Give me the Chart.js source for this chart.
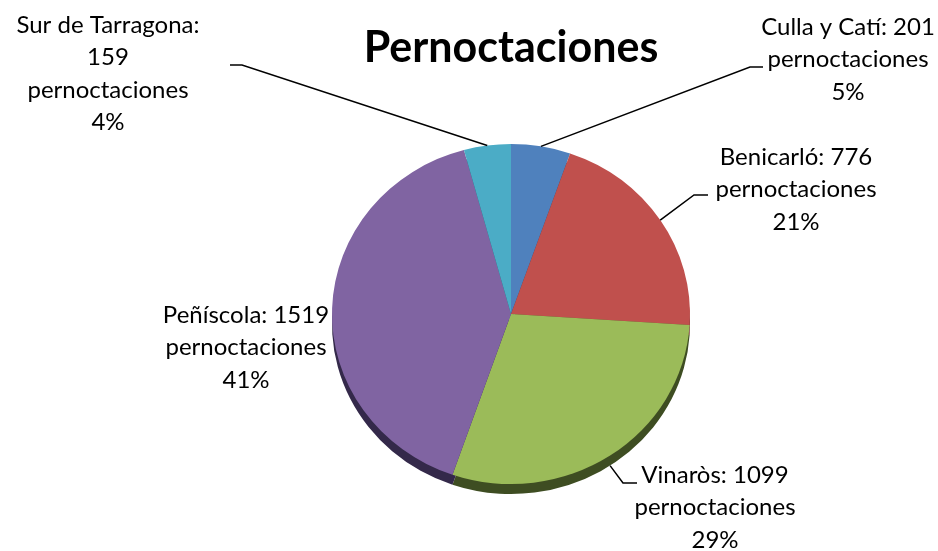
<!DOCTYPE html>
<html>
<head>
<meta charset="utf-8">
<script src="https://cdn.jsdelivr.net/npm/chart.js@4.4.0/dist/chart.umd.min.js"></script>
<style>
  html, body { margin: 0; background: #fff; }
  canvas { display: block; }
</style>
</head>
<body>
<canvas id="pernoctaciones" width="938" height="551"></canvas>
<script>
const titulo = 'Pernoctaciones';
const zonas = ['Culla y Catí', 'Benicarló', 'Vinaròs', 'Peñíscola', 'Sur de Tarragona'];
const pernoctaciones = [201, 776, 1099, 1519, 159];
const porcentajes = [5, 21, 29, 41, 4];

const colores = ['#4F81BD', '#C0504D', '#9BBB59', '#8064A2', '#4BACC6'];
const coloresLado = ['#2A4870', '#6E2C2A', '#3E4D22', '#34294A', '#22606F'];

// tarta ligeramente inclinada: achatamiento vertical y grosor del canto
const inclinacion = 0.95;
const profundidad = 10;

// dónde va el texto de cada etiqueta y el codo de su línea guía
const posEtiquetas = [
    { x: 848, y: 27, codo: [750, 67], fin: [763, 67] },
    { x: 796, y: 157, codo: [694, 195], fin: [708, 195] },
    { x: 715, y: 475, codo: [623, 483], fin: [637, 483] },
    { x: 246, y: 315 },
    { x: 108, y: 25, codo: [242, 65], fin: [230, 65], partir: true }
];

const fuente = 'Lato, "Open Sans", sans-serif';

const tarta3d = {
    id: 'tarta3d',
    beforeDatasetsDraw(chart) {
        const ctx = chart.ctx;
        const arcs = chart.getDatasetMeta(0).data;
        const cx = arcs[0].x;
        const cy = arcs[0].y;
        ctx.save();
        ctx.translate(cx, cy);
        ctx.scale(1, inclinacion);
        ctx.translate(-cx, -cy);
        // canto inferior: cada porción desplazada hacia abajo en su tono oscuro
        const dy = profundidad / inclinacion;
        arcs.forEach((arc, i) => {
            ctx.beginPath();
            ctx.moveTo(arc.x, arc.y + dy);
            ctx.arc(arc.x, arc.y + dy, arc.outerRadius, arc.startAngle, arc.endAngle);
            ctx.closePath();
            ctx.fillStyle = coloresLado[i];
            ctx.fill();
        });
    },
    afterDatasetsDraw(chart) {
        chart.ctx.restore();
    }
};

const etiquetas = {
    id: 'etiquetas',
    afterDraw(chart) {
        const ctx = chart.ctx;
        const arcs = chart.getDatasetMeta(0).data;
        ctx.save();
        ctx.fillStyle = '#000';
        ctx.textAlign = 'center';
        ctx.textBaseline = 'middle';
        ctx.font = 'bold 43px ' + fuente;
        ctx.fillText(titulo, 511, 48);

        ctx.font = '24px ' + fuente;
        ctx.strokeStyle = '#000';
        ctx.lineWidth = 1.5;
        arcs.forEach((arc, i) => {
            const pos = posEtiquetas[i];
            const lineas = pos.partir
                ? [zonas[i] + ':', String(pernoctaciones[i])]
                : [zonas[i] + ': ' + pernoctaciones[i]];
            lineas.push('pernoctaciones', porcentajes[i] + '%');
            lineas.forEach((t, j) => ctx.fillText(t, pos.x, pos.y + j * 32.5));

            if (pos.codo) {
                const a = (arc.startAngle + arc.endAngle) / 2;
                const px = arc.x + arc.outerRadius * Math.cos(a);
                let py = arc.y + arc.outerRadius * Math.sin(a) * inclinacion;
                if (Math.sin(a) > 0.3) py += profundidad;
                ctx.beginPath();
                ctx.moveTo(px, py);
                ctx.lineTo(pos.codo[0], pos.codo[1]);
                ctx.lineTo(pos.fin[0], pos.fin[1]);
                ctx.stroke();
            }
        });
        ctx.restore();
    }
};

new Chart(document.getElementById('pernoctaciones'), {
    type: 'pie',
    data: {
        labels: zonas,
        datasets: [{
            data: pernoctaciones,
            backgroundColor: colores,
            borderColor: colores,
            borderWidth: 0
        }]
    },
    options: {
        responsive: false,
        animation: false,
        layout: { padding: { left: 332, right: 248, top: 135, bottom: 58 } },
        plugins: {
            legend: { display: false },
            tooltip: { enabled: false },
            title: { display: false }
        }
    },
    plugins: [tarta3d, etiquetas]
});
</script>
</body>
</html>
